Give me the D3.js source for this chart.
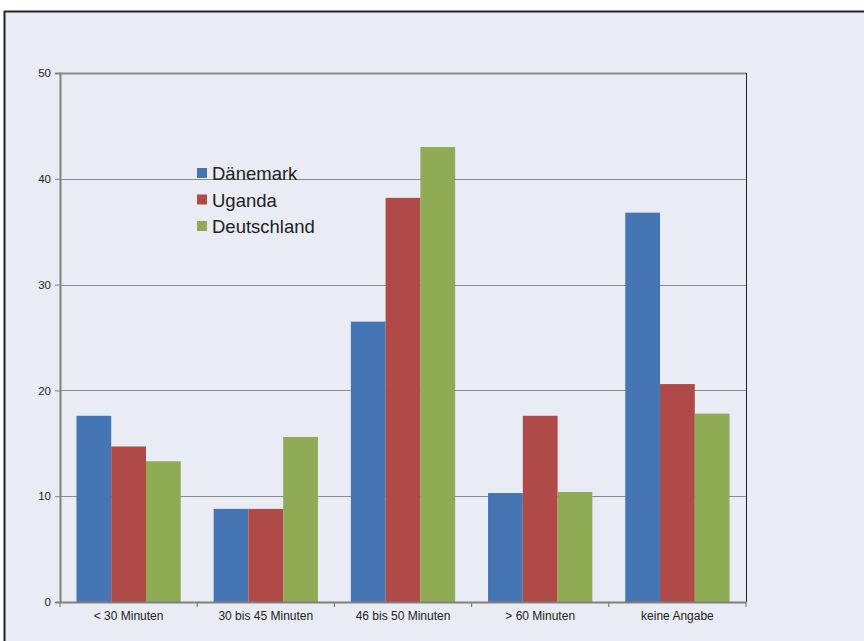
<!DOCTYPE html>
<html>
<head>
<meta charset="utf-8">
<script src="https://cdn.jsdelivr.net/npm/d3@7"></script>
<style>
  body { margin: 0; background: #fff; }
  text { font-family: "Liberation Sans", Arial, sans-serif; fill: #222; }
</style>
</head>
<body>
<div id="chart"></div>
<script>
const categories = ['< 30 Minuten', '30 bis 45 Minuten', '46 bis 50 Minuten', '> 60 Minuten', 'keine Angabe'];
const seriesNames = ['Dänemark', 'Uganda', 'Deutschland'];
const daenemark = [17.6, 8.8, 26.5, 10.3, 36.8];
const uganda = [14.7, 8.8, 38.2, 17.6, 20.6];
const deutschland = [13.3, 15.6, 43.0, 10.4, 17.8];
const yTicks = [0, 10, 20, 30, 40, 50];
const colors = ['#4675b4', '#af4a48', '#8fac55'];

const W = 864, H = 641;
const MARGIN = {TOP: 73, LEFT: 60, RIGHT: 118, BOTTOM: 39};
const WIDTH = W - MARGIN.LEFT - MARGIN.RIGHT;
const HEIGHT = H - MARGIN.TOP - MARGIN.BOTTOM;

const svg = d3.select('#chart').append('svg')
    .attr('width', W).attr('height', H);

// background panel with top/left border
svg.append('rect')
    .attr('x', 4).attr('y', 11).attr('width', W).attr('height', H)
    .attr('fill', '#e9ecf5');
svg.append('line').attr('x1', 4).attr('x2', W).attr('y1', 11.5).attr('y2', 11.5)
    .attr('stroke', '#222').attr('stroke-width', 2);
svg.append('line').attr('x1', 4.5).attr('x2', 4.5).attr('y1', 11).attr('y2', H)
    .attr('stroke', '#222').attr('stroke-width', 2);

const g = svg.append('g').attr('transform', `translate(${MARGIN.LEFT}, ${MARGIN.TOP})`);

const x = d3.scaleBand().domain(categories).range([0, WIDTH]).padding(0);
const bw = x.bandwidth();
const x1 = d3.scaleBand().domain(seriesNames).range([bw * 0.12, bw * 0.88]).padding(0);
const y = d3.scaleLinear().domain([0, 50]).range([HEIGHT, 0]);

// grid lines
g.append('g').selectAll('line').data(yTicks.filter(d => d > 0)).join('line')
    .attr('x1', 0).attr('x2', WIDTH)
    .attr('y1', d => Math.round(y(d)) + 0.5).attr('y2', d => Math.round(y(d)) + 0.5)
    .attr('stroke', '#8c8c8c').attr('stroke-width', d => d === 50 ? 2 : 1.2);

// right border of plot
g.append('line').attr('x1', WIDTH + 0.5).attr('x2', WIDTH + 0.5).attr('y1', 0).attr('y2', HEIGHT)
    .attr('stroke', '#222').attr('stroke-width', 1);

const series = [daenemark, uganda, deutschland];
series.forEach((vals, si) => {
    g.append('g').selectAll('rect').data(vals).join('rect')
        .attr('x', (d, i) => x(categories[i]) + x1(seriesNames[si]))
        .attr('width', x1.bandwidth())
        .attr('y', d => y(d))
        .attr('height', d => y(0) - y(d))
        .attr('fill', colors[si]);
});

// y axis
const yAxis = g.append('g').call(d3.axisLeft(y).tickValues(yTicks).tickSize(5).tickPadding(4));
yAxis.select('.domain').attr('stroke', '#808080').attr('stroke-width', 2);
yAxis.selectAll('.tick line').attr('stroke', '#808080');
yAxis.selectAll('.tick text').attr('font-size', 11.5).attr('fill', '#222');

// x axis
const xAxis = g.append('g').attr('transform', `translate(0, ${HEIGHT})`)
    .call(d3.axisBottom(x).tickSize(0).tickPadding(9));
xAxis.select('.domain').attr('stroke', '#808080').attr('stroke-width', 2);
xAxis.selectAll('.tick text').attr('font-size', 12).attr('fill', '#222');
xAxis.selectAll('line.sep').data(d3.range(categories.length + 1)).join('line')
    .attr('class', 'sep')
    .attr('x1', i => i * bw).attr('x2', i => i * bw)
    .attr('y1', 0).attr('y2', 5)
    .attr('stroke', '#808080').attr('stroke-width', 1.2);

// legend
const legend = svg.append('g').attr('transform', 'translate(197, 168)');
seriesNames.forEach((name, i) => {
    const row = legend.append('g').attr('transform', `translate(0, ${i * 26.5})`);
    row.append('rect').attr('width', 10).attr('height', 10).attr('fill', colors[i]);
    row.append('text').attr('x', 15).attr('y', 12).attr('font-size', 18.5).text(name);
});
</script>
</body>
</html>
